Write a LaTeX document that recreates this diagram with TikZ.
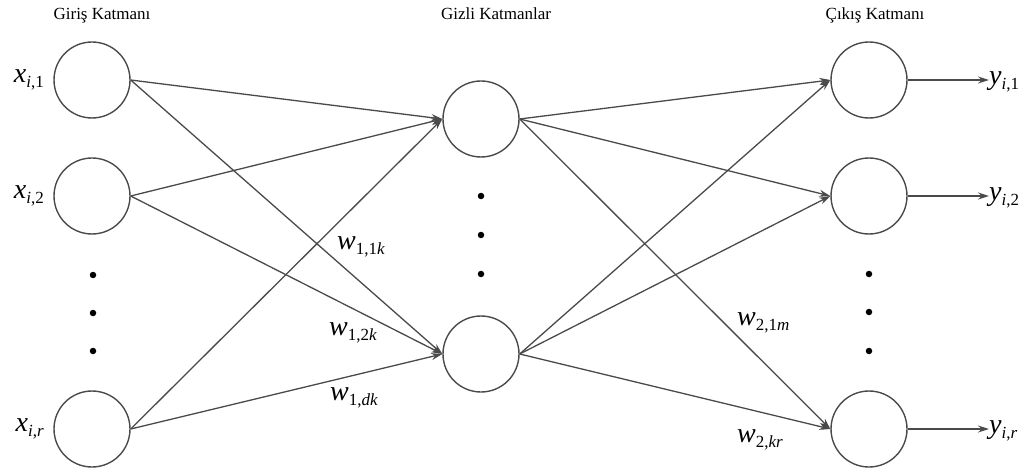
\documentclass[tikz,border=0pt]{standalone}
\usepackage{fontspec}
\setmainfont{Liberation Serif}
\usetikzlibrary{arrows.meta}
\definecolor{edgecol}{HTML}{4A4A4A}
\newcommand{\nlab}[2]{{\fontsize{28}{28}\selectfont\itshape #1}\raisebox{-5pt}{\fontsize{17}{17}\selectfont #2}}
\begin{document}
\begin{tikzpicture}[x=1pt,y=-1pt,
  neuron/.style={circle,draw=edgecol,line width=1.4pt,minimum size=76pt,inner sep=0pt},
  conn/.style={draw=edgecol,line width=1.3pt,-{Stealth[length=11pt,width=7pt]}},
  dotm/.style={circle,fill=black,inner sep=0pt,minimum size=6.5pt},
  hdr/.style={font=\fontsize{17}{17}\selectfont,inner sep=0pt},
  lab/.style={inner sep=0pt}]
\useasboundingbox (0,0) rectangle (1030,470);

% headers
\node[hdr,anchor=base] (h1) at (102,20) {Giriş Katmanı};
\node[hdr,anchor=base] (h2) at (496,20) {Gizli Katmanlar};
\node[hdr,anchor=base] (h3) at (875,20) {Çıkış Katmanı};

% input layer
\node[neuron] (i1) at (92,80) {};
\node[neuron] (i2) at (92,196) {};
\node[neuron] (ir) at (92,429) {};
\node[dotm] (id1) at (93,275) {};
\node[dotm] (id2) at (93,313) {};
\node[dotm] (id3) at (93,351) {};

% hidden layer
\node[neuron] (h1n) at (481,119) {};
\node[neuron] (h2n) at (481,354) {};
\node[dotm] (hd1) at (481,196) {};
\node[dotm] (hd2) at (481,235) {};
\node[dotm] (hd3) at (481,274) {};

% output layer
\node[neuron] (o1) at (869,80) {};
\node[neuron] (o2) at (869,196) {};
\node[neuron] (or) at (869,429) {};
\node[dotm] (od1) at (869,274) {};
\node[dotm] (od2) at (869,312) {};
\node[dotm] (od3) at (869,351) {};

% input labels
\node[lab,anchor=east] (xl1) at (44,80) {\nlab{x}{\textit{i},1}};
\node[lab,anchor=east] (xl2) at (44,196) {\nlab{x}{\textit{i},2}};
\node[lab,anchor=east] (xlr) at (44,429) {\nlab{x}{\textit{i},\textit{r}}};

% output labels
\node[lab,anchor=west] (yl1) at (989,82) {\nlab{y}{\textit{i},1}};
\node[lab,anchor=west] (yl2) at (989,198) {\nlab{y}{\textit{i},2}};
\node[lab,anchor=west] (ylr) at (989,431) {\nlab{y}{\textit{i},\textit{r}}};

% connections input -> hidden
\foreach \a in {i1,i2,ir}{
  \foreach \b in {h1n,h2n}{
    \draw[conn] (\a.east) -- (\b.west);
  }
}
% connections hidden -> output
\foreach \a in {h1n,h2n}{
  \foreach \b in {o1,o2,or}{
    \draw[conn] (\a.east) -- (\b.west);
  }
}
% outputs
\draw[conn] (o1.east) -- (o1.east -| yl1.west);
\draw[conn] (o2.east) -- (o2.east -| yl2.west);
\draw[conn] (or.east) -- (or.east -| ylr.west);

% weight labels
\node[lab,anchor=west] (w11k) at (337,247) {\nlab{w}{1,1\textit{k}}};
\node[lab,anchor=west] (w12k) at (329,333) {\nlab{w}{1,2\textit{k}}};
\node[lab,anchor=west] (w1dk) at (330,398) {\nlab{w}{1,\textit{dk}}};
\node[lab,anchor=west] (w21m) at (737,323) {\nlab{w}{2,1\textit{m}}};
\node[lab,anchor=west] (w2kr) at (737,440) {\nlab{w}{2,\textit{kr}}};
\end{tikzpicture}
\end{document}
